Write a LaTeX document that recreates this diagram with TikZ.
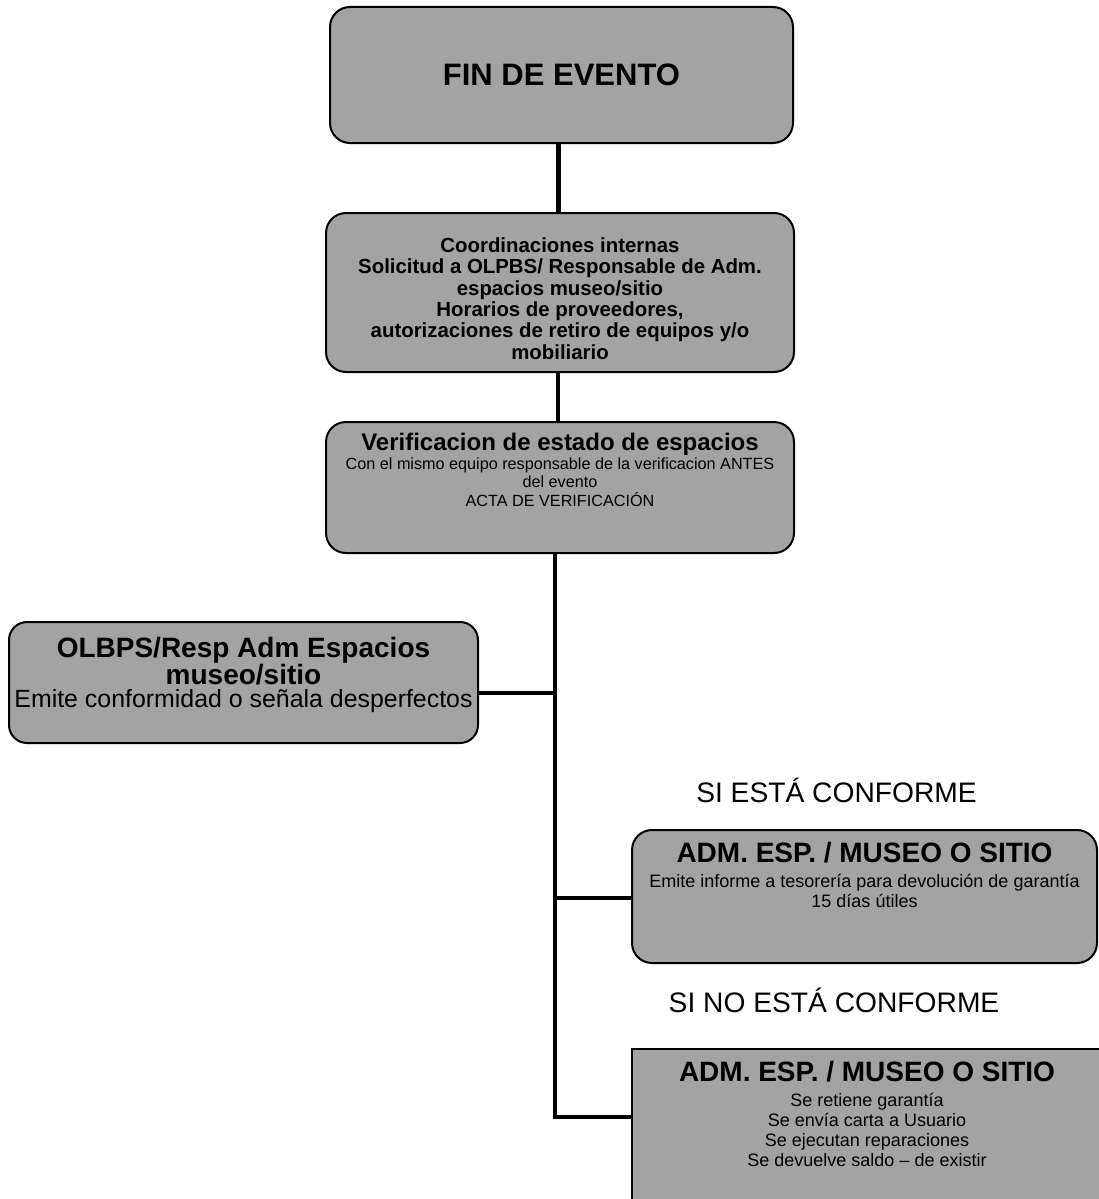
\documentclass[tikz,border=0pt]{standalone}
\usepackage{fontspec}
\setmainfont{Liberation Sans}
\definecolor{boxgray}{gray}{0.64}
\tikzset{
  box/.style={draw=black, line width=2pt, fill=boxgray, rounded corners=20pt, inner sep=0pt},
  sqbox/.style={draw=black, line width=2pt, fill=boxgray, inner sep=0pt},
  conn/.style={line width=4.8pt, black},
  txt/.style={align=center, inner sep=0pt, text=black},
  ptxt/.style={align=center, inner sep=0pt, text=black, text width=470pt, anchor=north},
}
\newcommand{\fs}[2]{\fontsize{#1}{#2}\selectfont\spaceskip=\fontdimen2\font\relax}
\begin{document}
\begin{tikzpicture}[x=1pt,y=-1pt]
\clip (0,0) rectangle (1099,1199);
\fill[white] (0,0) rectangle (1099,1199);

% boxes
\node[box, minimum width=463pt, minimum height=136pt] (b1) at (561.5,75) {};
\node[box, minimum width=468pt, minimum height=159pt] (b2) at (560,292.5) {};
\node[box, minimum width=468pt, minimum height=131pt] (b3) at (560,487.5) {};
\node[box, minimum width=469pt, minimum height=121pt, rounded corners=18pt] (b4) at (243.5,682.5) {};
\node[box, minimum width=465pt, minimum height=133pt] (b5) at (864.5,896.5) {};
\node[sqbox, minimum width=470pt, minimum height=170pt] (b6) at (867,1134) {};

% texts
\node[txt, font=\fs{31}{34}\bfseries] (t1) at (561.5,75) {FIN DE EVENTO};
\node[txt, font=\fs{20.4}{21.4}\bfseries] (t2) at (560,298.5)
  {Coordinaciones internas\\Solicitud a OLPBS/ Responsable de Adm.\\espacios museo/sitio\\Horarios de proveedores,\\autorizaciones de retiro de equipos y/o\\mobiliario};
\node[ptxt] (t3) at (560,433)
  {{\fs{24}{26}\bfseries Verificacion de estado de espacios\par}
   \fs{16.2}{18.7}Con el mismo equipo responsable de la verificacion ANTES\\
   del evento\\
   ACTA DE VERIFICACIÓN\par};
\node[ptxt] (t4) at (243.5,637)
  {{\fs{28}{25}\bfseries OLBPS/Resp Adm Espacios\\museo/sitio\par}
   \fs{24.9}{23}Emite conformidad o señala desperfectos\par};
\node[ptxt] (t5) at (864.5,842)
  {{\fs{28}{29}\bfseries ADM. ESP. / MUSEO O SITIO\par}\vspace{5pt}
   \fs{18}{19.8}Emite informe a tesorería para devolución de garantía\\
   15 días útiles\par};
\node[ptxt] (t6) at (867,1061)
  {{\fs{28}{29}\bfseries ADM. ESP. / MUSEO O SITIO\par}\vspace{5pt}
   \fs{18}{20}Se retiene garantía\\
   Se envía carta a Usuario\\
   Se ejecutan reparaciones\\
   Se devuelve saldo – de existir\par};

\node[txt, font=\fs{28.2}{30}] (l1) at (836.5,790) {SI ESTÁ CONFORME};
\node[txt, font=\fs{28.2}{30}] (l2) at (834,1000) {SI NO ESTÁ CONFORME};

% connectors
\coordinate (tj) at (555,1117);
\coordinate (j1) at (555,693);
\coordinate (j2) at (555,898);
\draw[conn] ([xshift=-3pt]b1.south) -- ([xshift=-3pt]b1.south |- b2.north);
\draw[conn] ([xshift=-2pt]b2.south) -- ([xshift=-2pt]b3.north);
\draw[conn] (b3.south -| tj) -- (tj) -- (tj -| b6.west);
\draw[conn] (j1) -- (j1 -| b4.east);
\draw[conn] (j2) -- (j2 -| b5.west);
\end{tikzpicture}
\end{document}
